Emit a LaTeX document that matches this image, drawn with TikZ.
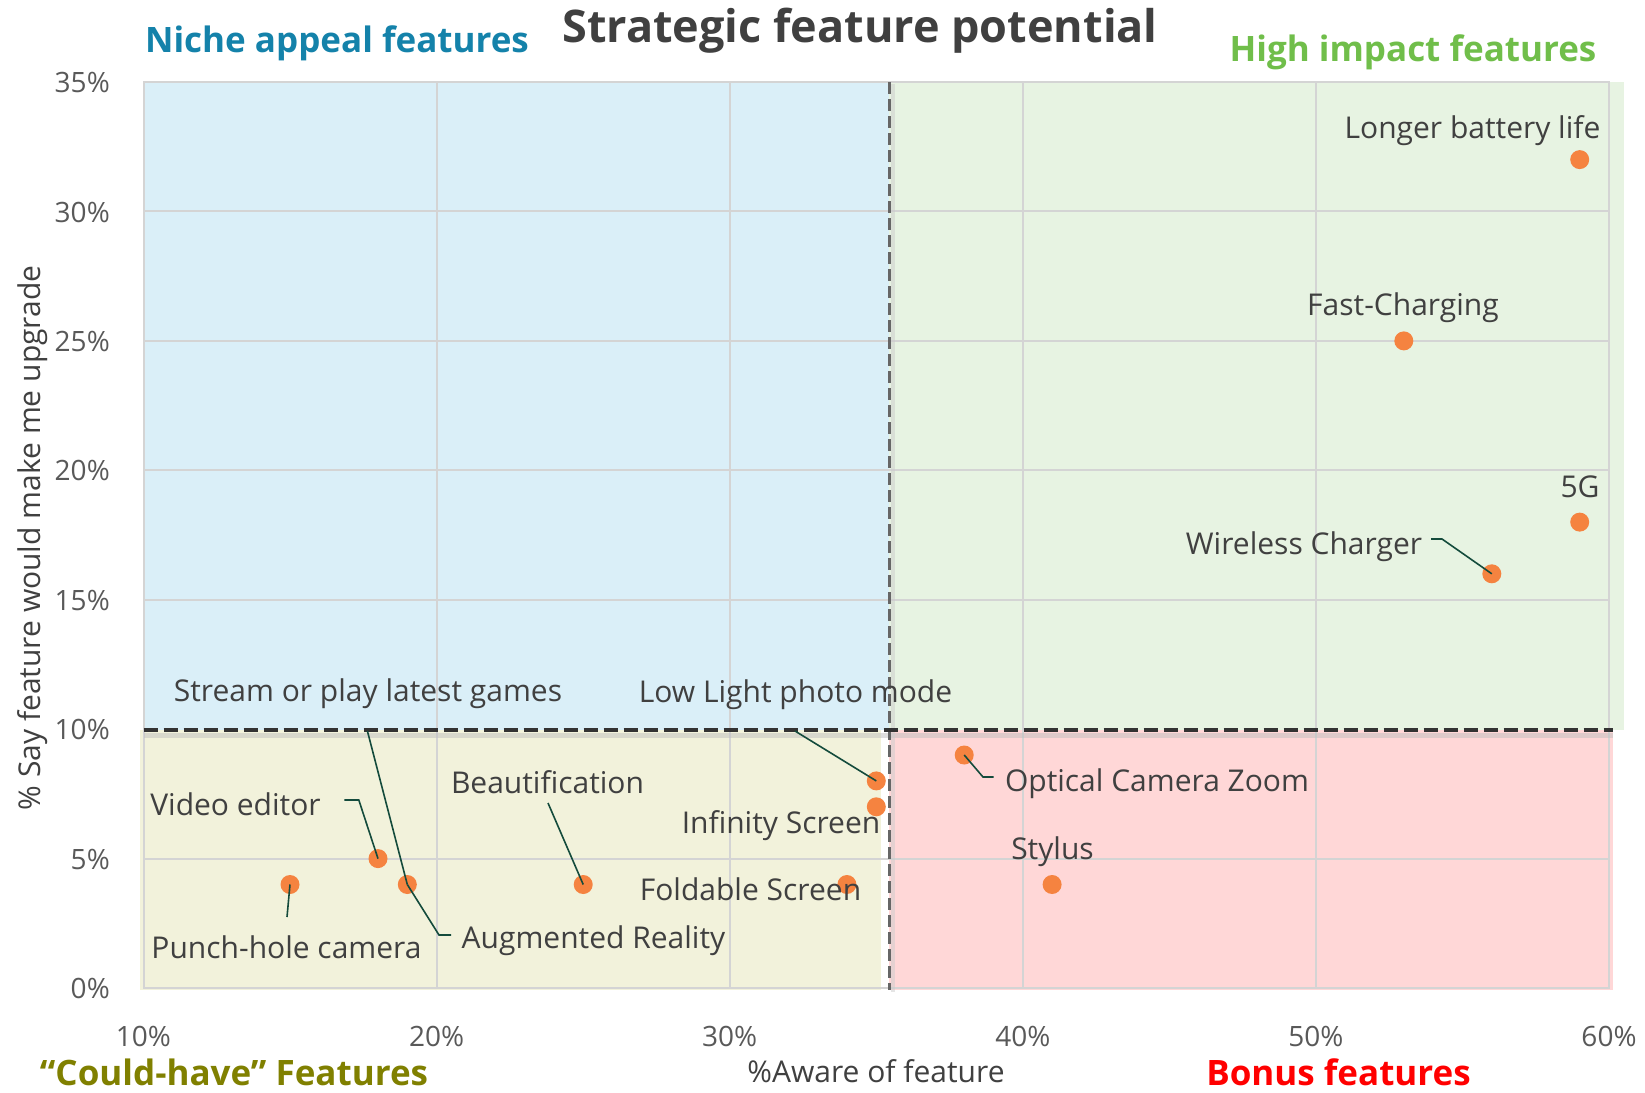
\documentclass[tikz,border=0pt]{standalone}
\usepackage{fontspec}
\setmainfont{Open Sans}
\definecolor{txt}{RGB}{64,64,64}
\definecolor{ticktxt}{RGB}{89,89,89}
\definecolor{gridc}{RGB}{212,212,212}
\definecolor{blueq}{RGB}{218,239,248}
\definecolor{greenq}{RGB}{231,243,226}
\definecolor{yellowq}{RGB}{242,242,219}
\definecolor{pinkq}{RGB}{255,215,215}
\definecolor{dotc}{RGB}{245,131,64}
\definecolor{leadc}{RGB}{20,75,60}
\definecolor{nichec}{RGB}{20,130,170}
\definecolor{highc}{RGB}{112,190,74}
\definecolor{couldc}{RGB}{128,128,0}
\definecolor{bonusc}{RGB}{255,0,0}
\begin{document}
\begin{tikzpicture}[x=1pt,y=-1pt,
  lbl/.style={text=txt,font=\fontsize{30}{33}\selectfont,inner sep=0pt,anchor=mid},
  tick/.style={text=ticktxt,font=\fontsize{28}{30}\selectfont,inner sep=0pt},
  quad/.style={font=\fontsize{35}{38}\selectfont\bfseries,inner sep=0pt,anchor=mid},
  dot/.style={circle,fill=dotc,minimum size=19pt,inner sep=0pt,draw=none},
  leader/.style={draw=leadc,line width=1.6pt},
  gridl/.style={draw=gridc,line width=2pt}]
\useasboundingbox (0,0) rectangle (1645,1092);
\fill[white] (0,0) rectangle (1645,1092);
% quadrant backgrounds
\fill[blueq] (143.5,82) rectangle (889,730);
\fill[greenq] (889,82) rectangle (1624,730);
\fill[yellowq] (139.5,730) rectangle (881,990);
\fill[pinkq] (889,730) rectangle (1613,990);
% grid
\foreach \gx in {436.6,729.7,1022.8,1315.9}{\draw[gridl] (\gx,82) -- (\gx,988);}
\foreach \gy in {211.4,340.9,470.3,599.7,858.6}{\draw[gridl] (143.5,\gy) -- (1609,\gy);}
\draw[gridl] (143.5,82) rectangle (1609,988);
% tick labels
\foreach \v/\gy in {0/988,5/858.6,10/729.1,15/599.7,20/470.3,25/340.9,30/211.4,35/82}{
  \node[tick,anchor=mid east] (yt\v) at (110,\gy+8) {\v\%};}
\foreach \v/\gx in {10/143.5,20/436.6,30/729.7,40/1022.8,50/1315.9,60/1609}{
  \node[tick,anchor=mid] (xt\v) at (\gx,1044) {\v\%};}
% dashed threshold lines
\draw[black!25,line width=5pt,opacity=0.5] (143.5,735) -- (1613,735);
\draw[black!20,line width=4pt,opacity=0.5] (893,84) -- (893,992);
\draw[black!60,line width=3pt,dash pattern=on 12pt off 5pt] (889,82) -- (889,990);
\draw[black!80,line width=4pt,dash pattern=on 14pt off 6pt] (143.5,730) -- (1613,730);
% points
\node[dot] (battery) at (1579.7,159.6) {};
\node[dot] (fast) at (1403.8,340.9) {};
\node[dot] (fiveg) at (1579.7,522.1) {};
\node[dot] (wireless) at (1491.8,573.8) {};
\node[dot] (lowlight) at (876.3,780.9) {};
\node[dot] (infinity) at (876.3,806.8) {};
\node[dot] (foldable) at (846.9,884.5) {};
\node[dot] (optical) at (964.2,755) {};
\node[dot] (stylus) at (1052.1,884.5) {};
\node[dot] (video) at (378,858.6) {};
\node[dot] (augmented) at (407.3,884.5) {};
\node[dot] (punch) at (290,884.5) {};
\node[dot] (beauty) at (583.2,884.5) {};
% labels
\node[lbl] (lbattery) at (1472.5,136) {Longer battery life};
\node[lbl] (lfast) at (1403,313) {Fast-Charging};
\node[lbl] (lfiveg) at (1580,495) {5G};
\node[lbl] (lwireless) at (1304,552) {Wireless Charger};
\node[lbl] (llowlight) at (795.5,700) {Low Light photo mode};
\node[lbl] (lstream) at (368,699) {Stream or play latest games};
\node[lbl] (linfinity) at (781,831) {Infinity Screen};
\node[lbl] (lfoldable) at (750.5,898) {Foldable Screen};
\node[lbl] (lbeauty) at (547.5,791) {Beautification};
\node[lbl] (lvideo) at (235.5,813) {Video editor};
\node[lbl] (lpunch) at (286.5,956) {Punch-hole camera};
\node[lbl] (laug) at (593.5,946) {Augmented Reality};
\node[lbl] (loptical) at (1157,789) {Optical Camera Zoom};
\node[lbl] (lstylus) at (1052.5,857) {Stylus};
% leader lines
\coordinate (wa) at (1431,539); \coordinate (wb) at (1442,539);
\draw[leader] (wa) -- (wb) -- (wireless.center);
\coordinate (la) at (795,731);
\draw[leader] (la) -- (lowlight.center);
\coordinate (oa) at (983,777); \coordinate (ob) at (993.5,777);
\draw[leader] (optical.center) -- (oa) -- (ob);
\coordinate (ba) at (548,803);
\draw[leader] (ba) -- (beauty.center);
\coordinate (va) at (344.4,800); \coordinate (vb) at (358.8,800);
\draw[leader] (va) -- (vb) -- (video.center);
\coordinate (pa) at (287,917);
\draw[leader] (pa) -- (punch.center);
\coordinate (sa) at (367.4,731);
\draw[leader] (sa) -- (augmented.center);
\coordinate (aa) at (451,935); \coordinate (ab) at (439,935);
\draw[leader] (aa) -- (ab) -- (augmented.center);
% titles
\node[text=txt,font=\fontsize{45}{48}\selectfont\bfseries,inner sep=0pt,anchor=mid] (title) at (860,40) {Strategic feature potential};
\node[quad,text=nichec] (qniche) at (337,49.5) {Niche appeal features};
\node[quad,text=highc] (qhigh) at (1413,58.5) {High impact features};
\node[quad,text=couldc] (qcould) at (234,1083) {“Could-have” Features};
\node[quad,text=bonusc] (qbonus) at (1338.5,1083) {Bonus features};
\node[lbl,text=txt] (xtitle) at (876,1079.5) {\%Aware of feature};
\node[text=txt,font=\fontsize{30}{33}\selectfont,inner sep=0pt,rotate=90,anchor=center] (ytitle) at (33,538) {\% Say feature would make me upgrade};
\end{tikzpicture}
\end{document}
